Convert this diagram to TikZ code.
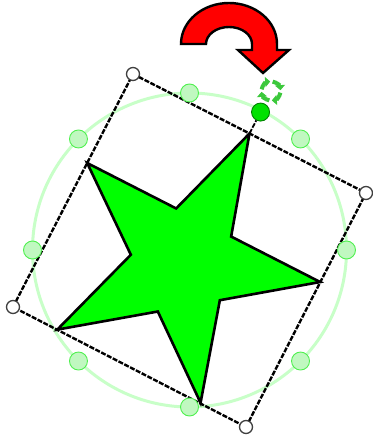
\documentclass[tikz,border=0pt]{standalone}
\usetikzlibrary{arrows.meta,calc}
\definecolor{lgline}{RGB}{200,255,200}
\definecolor{lgfill}{RGB}{192,248,192}
\definecolor{lgedge}{RGB}{80,240,80}
\definecolor{stargreen}{RGB}{0,255,0}
\definecolor{rotgreen}{RGB}{0,225,0}
\definecolor{recyc}{RGB}{60,200,60}
\begin{document}
\begin{tikzpicture}[x=1pt,y=-1pt,
 sizehandle/.style={circle,draw=lgedge,fill=lgfill,line width=0.9pt,minimum size=18pt,inner sep=0pt},
 cornerhandle/.style={circle,draw=black!75,fill=white,line width=1.3pt,minimum size=13pt,inner sep=0pt},
 rothandle/.style={circle,draw=black!50!green,fill=rotgreen,line width=0.9pt,minimum size=18pt,inner sep=0pt},
 frame/.style={draw=black,line width=2.4pt,dash pattern=on 5pt off 1.5pt},
 starstyle/.style={fill=stargreen,draw=black,line width=2.6pt,line join=miter},
 redarrow/.style={fill=red,draw=black,line width=2.4pt,line join=miter},
 recycle/.style={draw=recyc,line width=4pt,-{Triangle[length=5pt,width=10pt]}},
]
\useasboundingbox (0,0) rectangle (372,438);
\coordinate (C) at (189.5,250);
% bounding circle
\draw[lgline,line width=3pt] (C) circle[radius=157];
% frame corners
\coordinate (TL) at (133,74);
\coordinate (TR) at (366,193);
\coordinate (BR) at (246,427);
\coordinate (BL) at (13,307);
\draw[frame] (TL) -- (TR) -- (BR) -- (BL) -- cycle;
% star
\begin{scope}[shift={(133,74)},x={(233pt,-119pt)},y={(-120pt,-233pt)}]
\draw[starstyle] (0.5,0) -- (0.618,0.382) -- (1,0.382) -- (0.691,0.618) -- (0.805,1)
  -- (0.5,0.764) -- (0.19,1) -- (0.309,0.618) -- (0,0.382) -- (0.382,0.382) -- cycle;
\coordinate (M) at (0.5,0);
\coordinate (Rh) at (0.5,-0.092);
\end{scope}
% rotation handle connector
\node[rothandle] (rot) at (Rh) {};
\draw[frame,line width=1.8pt] (M) -- (rot);
% size handles
\foreach \a in {0,45,...,315}
  \node[sizehandle] (h\a) at ($(C)+(\a:157)$) {};
% corner handles
\node[cornerhandle] (cTL) at (TL) {};
\node[cornerhandle] (cTR) at (TR) {};
\node[cornerhandle] (cBR) at (BR) {};
\node[cornerhandle] (cBL) at (BL) {};
% recycle icon
\coordinate (R) at (271,91);
\foreach \a in {10,100,190,280}
  \draw[recycle] ($(R)+(\a:9.5)$) arc[start angle=\a,end angle=\a+75,radius=9.5];
% red rotation arrow
\draw[redarrow] (181,44) arc[start angle=180,end angle=360,x radius=48,y radius=41]
  -- (277,50) -- (289,50) -- (263,73) -- (238,50) -- (252,50) -- (252,44)
  arc[start angle=360,end angle=180,x radius=23,y radius=17] -- cycle;
\end{tikzpicture}
\end{document}
